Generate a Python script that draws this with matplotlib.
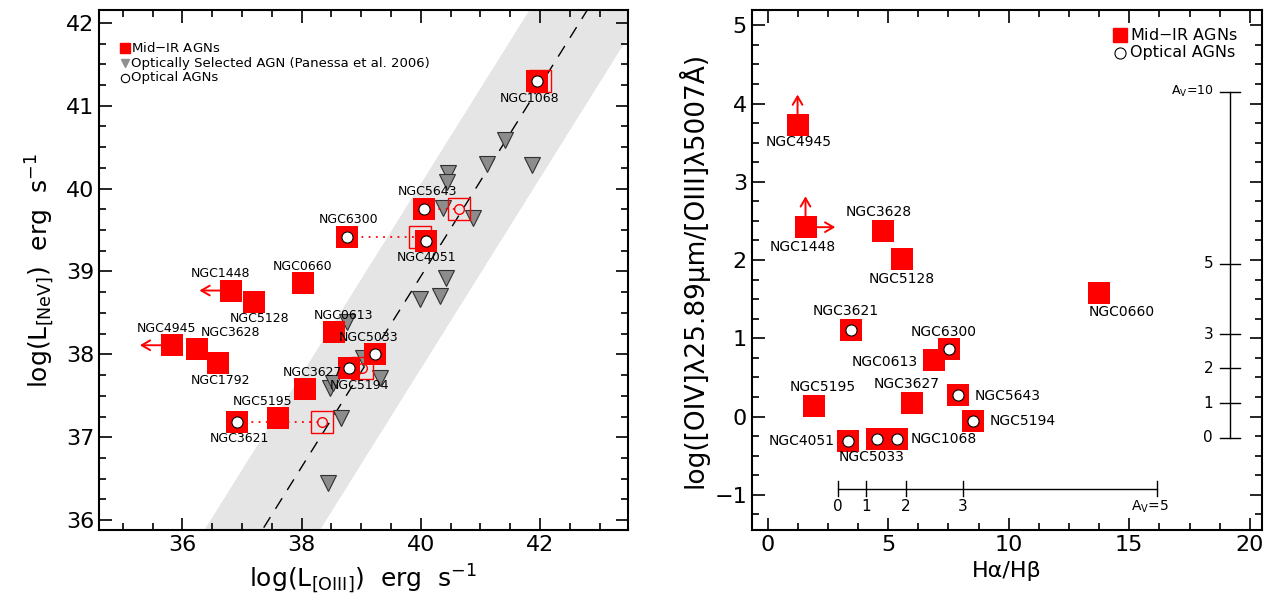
import matplotlib.pyplot as plt
from matplotlib.ticker import MultipleLocator
import numpy as np

plt.rcParams['font.family'] = 'DejaVu Sans'
plt.rcParams['mathtext.default'] = 'regular'

RED = '#ff0000'
GREY = '#8c8c8c'

#----------------------------- left panel data -----------------------------#
# mid-IR AGNs: log L[OIII], log L[NeV]
left_names = ['NGC1068', 'NGC5643', 'NGC6300', 'NGC4051', 'NGC0660', 'NGC1448',
              'NGC5128', 'NGC4945', 'NGC3628', 'NGC1792', 'NGC0613', 'NGC5033',
              'NGC5194', 'NGC3627', 'NGC5195', 'NGC3621']
left_oiii = [41.95, 40.05, 38.77, 40.08, 38.02, 36.82,
             37.21, 35.82, 36.25, 36.59, 38.54, 39.24,
             38.79, 38.05, 37.60, 36.91]
left_nev = [41.30, 39.75, 39.42, 39.37, 38.86, 38.77,
            38.63, 38.11, 38.06, 37.89, 38.27, 38.00,
            37.83, 37.58, 37.23, 37.19]
left_optical = [True, True, True, True, False, False,
                False, False, False, False, False, True,
                True, False, False, True]
left_upper = ['NGC1448', 'NGC4945']

# extinction corrected [OIII] for some optical AGNs (open squares)
corr_names = ['NGC5643', 'NGC6300', 'NGC5194', 'NGC3621', 'NGC1068']
corr_oiii = [40.64, 39.98, 39.01, 38.34, 42.00]

# Panessa et al. 2006 sample
pan_oiii = [41.41, 41.11, 41.87, 40.45, 40.44, 40.37, 40.87, 40.42, 40.32, 39.98,
            38.76, 38.47, 38.52, 39.31, 39.03, 38.67, 38.44]
pan_nev = [40.59, 40.30, 40.29, 40.19, 40.08, 39.76, 39.65, 38.92, 38.71, 38.67,
           38.39, 37.60, 37.66, 37.71, 37.96, 37.23, 36.45]

fit_slope = 1.15
fit_intercept = -7.06
band_half = 0.97

# label offsets (points)
left_lab = {'NGC1068': (-5, -13), 'NGC5643': (3, 13), 'NGC6300': (1, 12),
            'NGC4051': (1, -12), 'NGC0660': (0, 12), 'NGC1448': (-8, 12),
            'NGC5128': (4, -12), 'NGC4945': (-4, 12), 'NGC3628': (24, 12),
            'NGC1792': (2, -12), 'NGC0613': (7, 12), 'NGC5033': (-5, 12),
            'NGC5194': (8, -12), 'NGC3627': (6, 12), 'NGC5195': (-11, 12),
            'NGC3621': (2, -12)}

#----------------------------- right panel data ----------------------------#
right_names = ['NGC4945', 'NGC1448', 'NGC3628', 'NGC5128', 'NGC0660', 'NGC3621',
               'NGC6300', 'NGC0613', 'NGC3627', 'NGC5195', 'NGC5643', 'NGC5194',
               'NGC4051', 'NGC5033', 'NGC1068']
balmer = [1.24, 1.57, 4.79, 5.58, 13.76, 3.47,
          7.52, 6.90, 5.99, 1.94, 7.89, 8.51,
          3.35, 4.55, 5.37]
oiv_oiii = [3.72, 2.42, 2.37, 2.01, 1.58, 1.10,
            0.87, 0.72, 0.18, 0.13, 0.28, -0.06,
            -0.31, -0.29, -0.28]
right_optical = [False, False, False, False, False, True,
                 True, False, False, False, True, True,
                 True, True, True]

right_lab = {'NGC4945': (1, -12, 'center'), 'NGC1448': (-2, -14, 'center'),
             'NGC3628': (-3, 14, 'center'), 'NGC5128': (0, -14, 'center'),
             'NGC0660': (16, -14, 'center'), 'NGC3621': (-4, 14, 'center'),
             'NGC6300': (-4, 12, 'center'), 'NGC0613': (-12, -1, 'right'),
             'NGC3627': (-4, 13, 'center'), 'NGC5195': (6, 14, 'center'),
             'NGC5643': (12, -1, 'left'), 'NGC5194': (12, 0, 'left'),
             'NGC4051': (-10, 0, 'right'), 'NGC5033': (-4, -13, 'center'),
             'NGC1068': (10, 0, 'left')}

# A_V scales
av_vert = ['0', '1', '2', '3', '5', 'A$_V$=10']
av_vert_y = [-0.27, 0.17, 0.62, 1.05, 1.95, 4.15]
av_vert_x = 19.17
av_horiz = ['0', '1', '2', '3', 'A$_V$=5']
av_horiz_x = [2.93, 4.09, 5.74, 8.10, 16.16]
av_horiz_y = -0.92

#--------------------------------- figure ---------------------------------#
fig = plt.figure(figsize=(12.72, 6.10), dpi=100)
ax1 = fig.add_axes([0.0778, 0.131, 0.416, 0.852])
ax2 = fig.add_axes([0.591, 0.131, 0.401, 0.852])

SQ = 16
# left panel
yy = np.array([35.0, 43.0])
xline = (yy - fit_intercept) / fit_slope
ax1.fill_betweenx(yy, xline - band_half, xline + band_half, color='#e5e5e5', lw=0, zorder=0)
ax1.plot(xline, yy, color='k', ls=(0, (9, 7)), lw=1, zorder=1)

ax1.plot(pan_oiii, pan_nev, 'v', ms=11, mfc=GREY, mec='#303030', mew=0.8, ls='none', zorder=2)

# dotted lines + open squares
for n, xc in zip(corr_names, corr_oiii):
    i = left_names.index(n)
    ax1.plot([left_oiii[i], xc], [left_nev[i], left_nev[i]], color=RED, ls=(0, (1, 3)), lw=1.3, zorder=3)
    ax1.plot(xc, left_nev[i], 's', ms=SQ, mfc='none', mec=RED, mew=1, zorder=3)
    ax1.plot(xc, left_nev[i], 'o', ms=7, mfc='none', mec=RED, mew=1, zorder=3)

for n, x, y, op in zip(left_names, left_oiii, left_nev, left_optical):
    ax1.plot(x, y, 's', ms=SQ, mfc=RED, mec=RED, mew=0, zorder=4)
    if op:
        ax1.plot(x, y, 'o', ms=8, mfc='white', mec='k', mew=0.8, zorder=5)
    if n in left_upper:
        ax1.annotate('', xy=(x - 0.58, y), xytext=(x, y), zorder=3,
                     arrowprops=dict(arrowstyle='->,head_length=0.6,head_width=0.35', color=RED, lw=1.4))
    dx, dy = left_lab[n]
    ax1.annotate(n, (x, y), xytext=(dx, dy), textcoords='offset points', ha='center',
                 va='center', fontsize=9, zorder=6)

ax1.set_xlim(34.6, 43.48)
ax1.set_ylim(35.88, 42.15)
ax1.xaxis.set_major_locator(MultipleLocator(2))
ax1.xaxis.set_minor_locator(MultipleLocator(0.5))
ax1.yaxis.set_major_locator(MultipleLocator(1))
ax1.yaxis.set_minor_locator(MultipleLocator(0.25))
ax1.set_xlabel('log(L$_{[OIII]}$)  erg  s$^{-1}$', fontsize=18, labelpad=6)
ax1.set_ylabel('log(L$_{[NeV]}$)  erg  s$^{-1}$', fontsize=18, labelpad=6)

# left legend
leg_y = [41.69, 41.51, 41.34]
ax1.plot(35.03, leg_y[0], 's', ms=7, color=RED)
ax1.plot(35.03, leg_y[1], 'v', ms=6, mfc='#909090', mec='#909090')
ax1.plot(35.03, leg_y[2], 'o', ms=6, mfc='none', mec='k', mew=0.8)
for yl, txt in zip(leg_y, ['Mid$-$IR AGNs', 'Optically Selected AGN (Panessa et al. 2006)', 'Optical AGNs']):
    ax1.text(35.13, yl, txt, fontsize=9.5, va='center', ha='left')

# right panel
for n, x, y, op in zip(right_names, balmer, oiv_oiii, right_optical):
    ax2.plot(x, y, 's', ms=SQ, mfc=RED, mec=RED, mew=0, zorder=4)
    if op:
        ax2.plot(x, y, 'o', ms=8, mfc='white', mec='k', mew=0.8, zorder=5)
    dx, dy, ha = right_lab[n]
    ax2.annotate(n, (x, y), xytext=(dx, dy), textcoords='offset points', ha=ha,
                 va='center', fontsize=10, zorder=6)

arrow = dict(arrowstyle='->,head_length=0.6,head_width=0.35', color=RED, lw=1.4)
for n in ['NGC4945', 'NGC1448']:
    i = right_names.index(n)
    ax2.annotate('', xy=(balmer[i], oiv_oiii[i] + 0.43), xytext=(balmer[i], oiv_oiii[i]), arrowprops=arrow, zorder=3)
i = right_names.index('NGC1448')
ax2.annotate('', xy=(balmer[i] + 1.35, oiv_oiii[i]), xytext=(balmer[i], oiv_oiii[i]), arrowprops=arrow, zorder=3)

# A_V vertical scale
ax2.plot([av_vert_x, av_vert_x], [av_vert_y[0], av_vert_y[-1]], color='k', lw=1)
for lab, y in zip(av_vert, av_vert_y):
    ax2.plot([av_vert_x - 0.42, av_vert_x + 0.42], [y, y], color='k', lw=1)
    ax2.annotate(lab, (av_vert_x, y), xytext=(-12, 0), textcoords='offset points', ha='right',
                 va='center', fontsize=11 if len(lab) == 1 else 9)

# A_V horizontal scale
ax2.plot([av_horiz_x[0], av_horiz_x[-1]], [av_horiz_y, av_horiz_y], color='k', lw=1)
for lab, x in zip(av_horiz, av_horiz_x):
    ax2.plot([x, x], [av_horiz_y - 0.1, av_horiz_y + 0.1], color='k', lw=1)
    ax2.annotate(lab, (x, av_horiz_y), xytext=(-5 if len(lab) > 1 else 0, -13), textcoords='offset points',
                 ha='center', va='center', fontsize=11 if len(lab) == 1 else 10)

ax2.set_xlim(-0.66, 20.5)
ax2.set_ylim(-1.45, 5.19)
ax2.xaxis.set_major_locator(MultipleLocator(5))
ax2.xaxis.set_minor_locator(MultipleLocator(1.25))
ax2.yaxis.set_major_locator(MultipleLocator(1))
ax2.yaxis.set_minor_locator(MultipleLocator(0.25))
ax2.set_xlabel('H\u03b1/H\u03b2', fontsize=16)
ax2.set_ylabel('log([OIV]\u03bb25.89\u03bcm/[OIII]\u03bb5007\u00c5)', fontsize=19, labelpad=4)

# right legend
ax2.plot(14.63, 4.87, 's', ms=10, color=RED)
ax2.plot(14.63, 4.65, 'o', ms=8, mfc='none', mec='k', mew=0.8)
ax2.text(15.05, 4.87, 'Mid$-$IR AGNs', fontsize=11.5, va='center')
ax2.text(15.05, 4.65, 'Optical AGNs', fontsize=11.5, va='center')

for ax in (ax1, ax2):
    ax.tick_params(which='both', direction='in', top=True, right=True, labelsize=16, width=1.2)
    ax.tick_params(which='major', length=9)
    ax.tick_params(which='minor', length=5)
    for s in ax.spines.values():
        s.set_linewidth(1.5)

fig.savefig('out.png', dpi=100)
